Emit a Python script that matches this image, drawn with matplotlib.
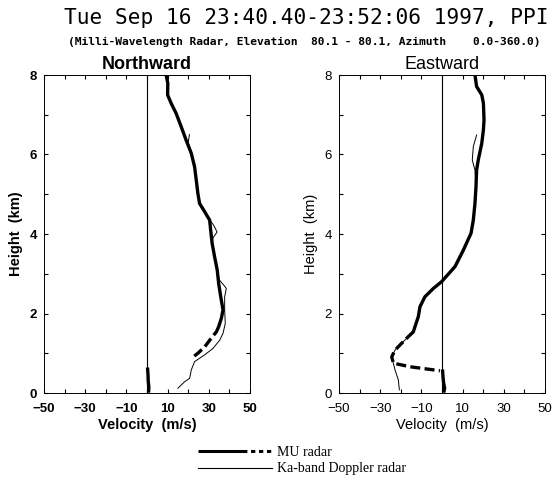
import numpy as np
import matplotlib.pyplot as plt
from matplotlib.lines import Line2D

# Northward profiles (velocity m/s, height km)
north_mu_h = [8.0, 7.79, 7.5, 7.29, 7.04, 6.7, 6.36, 6.03, 5.69, 5.36, 5.02, 4.77, 4.56,
              4.35, 4.1, 3.77, 3.43, 3.09, 2.75, 2.42, 2.09, 1.88, 1.67]
north_mu_v = [9.3, 10.1, 10.0, 11.7, 14.1, 16.6, 19.0, 21.5, 23.1, 23.9, 24.7, 25.5, 28.0,
              30.4, 30.9, 31.6, 32.8, 34.1, 34.8, 35.8, 36.9, 36.1, 34.8]
north_gap_h = [1.67, 1.54, 1.38, 1.16, 1.0, 0.87]
north_gap_v = [34.8, 33.7, 31.2, 28.0, 24.7, 21.5]
north_low_h = [0.6, 0.45, 0.3, 0.15, 0.05]
north_low_v = [0.3, 0.5, 0.6, 0.9, 0.8]
north_ka_h = [6.5, 6.3, 6.03, 5.69, 5.36, 5.02, 4.77, 4.56, 4.35, 4.2, 4.05, 3.9, 3.77, 3.43,
              3.09, 2.85, 2.7, 2.63, 2.42, 2.09, 1.75, 1.5, 1.33, 1.12, 0.96, 0.79, 0.58,
              0.37, 0.28, 0.12]
north_ka_v = [20.6, 20.0, 21.6, 23.2, 24.0, 24.8, 25.6, 28.2, 30.6, 32.6, 34.0, 32.0, 31.7,
              32.9, 34.2, 35.0, 37.5, 38.5, 37.7, 37.7, 38.0, 36.9, 35.3, 32.0, 28.0, 23.1,
              21.5, 20.7, 18.2, 15.0]

# Eastward profiles
east_mu_h = [8.0, 7.71, 7.5, 7.29, 6.87, 6.62, 6.28, 5.86, 5.61, 5.19, 4.77, 4.35, 4.02,
             3.6, 3.18, 2.8, 2.63, 2.42, 2.17, 1.92, 1.67, 1.54]
east_mu_v = [16.0, 16.8, 19.3, 20.1, 20.4, 20.1, 19.3, 17.6, 16.8, 16.5, 16.0, 15.2, 14.1,
             10.4, 6.3, -0.2, -4.2, -8.3, -10.7, -11.5, -13.1, -13.9]
east_gap_h = [1.54, 1.42, 1.25, 1.08, 0.91, 0.75, 0.66, 0.56]
east_gap_v = [-13.9, -16.3, -19.6, -22.8, -24.4, -23.6, -15.5, -1.0]
east_low_h = [0.55, 0.4, 0.25, 0.12, 0.05]
east_low_v = [0.3, 0.5, 0.8, 1.3, 1.0]
east_ka_h = [6.49, 6.2, 5.86, 5.61, 5.19, 4.77, 4.35, 4.02, 3.6, 3.18, 2.8, 2.63, 2.42, 2.17,
             1.92, 1.67, 1.54, 1.42, 1.25, 1.08, 0.91, 0.58, 0.33, 0.08]
east_ka_v = [16.8, 15.2, 14.7, 16.0, 16.5, 16.0, 15.2, 14.1, 10.9, 6.8, -0.2, -4.2, -8.3,
             -10.4, -11.3, -13.1, -13.9, -16.3, -19.6, -22.8, -24.4, -22.8, -21.2, -20.7]

x_major = [-50, -30, -10, 10, 30, 50]
x_minor = [-40, -20, 0, 20, 40]
y_major = [0, 2, 4, 6, 8]
y_minor = [1, 3, 5, 7]

plt.rcParams['font.family'] = ['Liberation Sans', 'DejaVu Sans']

fig = plt.figure(figsize=(5.56, 4.86), dpi=100)
ax1 = fig.add_axes([44/556, 93/486, 206/556, 318/486])
ax2 = fig.add_axes([339/556, 93/486, 206/556, 318/486])

THICK = 2.4
THIN = 0.7


def panel(ax, mu_h, mu_v, gap_h, gap_v, low_h, low_v, ka_h, ka_v, title, weight):
    ax.axvline(0, color='black', lw=0.8)
    ax.plot(ka_v, ka_h, color='black', lw=THIN)
    ax.plot(mu_v, mu_h, color='black', lw=THICK, solid_capstyle='round')
    ax.plot(gap_v, gap_h, color='black', lw=THICK, linestyle=(0, (3, 1.3)))
    ax.plot(low_v, low_h, color='black', lw=THICK)
    ax.set_xlim(-50, 50)
    ax.set_ylim(0, 8)
    ax.set_xticks(x_major)
    ax.set_xticks(x_minor, minor=True)
    ax.set_yticks(y_major)
    ax.set_yticks(y_minor, minor=True)
    ax.tick_params(which='both', direction='in', top=True, right=True, length=3,
                   width=0.8, labelsize=9.5)
    ax.tick_params(axis='x', pad=7)
    ax.tick_params(axis='y', pad=5)
    for lab in ax.get_xticklabels() + ax.get_yticklabels():
        lab.set_fontweight(weight)
    for sp in ax.spines.values():
        sp.set_linewidth(0.7)
    ax.set_title(title, fontsize=13, fontweight=weight, pad=4)
    ax.set_xlabel('Velocity  (m/s)', fontsize=10.5, fontweight=weight, labelpad=2)
    ax.set_ylabel('Height  (km)', fontsize=10.5, fontweight=weight, labelpad=5)


panel(ax1, north_mu_h, north_mu_v, north_gap_h, north_gap_v, north_low_h, north_low_v,
      north_ka_h, north_ka_v, 'Northward', 'bold')
panel(ax2, east_mu_h, east_mu_v, east_gap_h, east_gap_v, east_low_h, east_low_v,
      east_ka_h, east_ka_v, 'Eastward', 'normal')

fig.text(0.55, 1 - 18/486, 'Tue Sep 16 23:40.40-23:52:06 1997, PPI',
         family='DejaVu Sans Mono', fontsize=15.2, ha='center', va='center')
fig.text(0.547, 1 - 42/486,
         '(Milli-Wavelength Radar, Elevation  80.1 - 80.1, Azimuth    0.0-360.0)',
         family='DejaVu Sans Mono', fontweight='bold', fontsize=8.1,
         ha='center', va='center')

mu_handle = Line2D([], [], color='black', lw=2.2,
                   linestyle=(0, (16, 1.2, 1.4, 1.2, 1.4, 1.2, 1.4, 12)))
ka_handle = Line2D([], [], color='black', lw=0.8)
fig.legend([mu_handle, ka_handle], ['MU radar', 'Ka-band Doppler radar'],
           loc='upper left', bbox_to_anchor=(198/556, 1 - 446/486), frameon=False,
           borderpad=0, borderaxespad=0, handlelength=5.3, handletextpad=0.4,
           labelspacing=0.25, prop={'family': 'Liberation Serif', 'size': 10})

fig.savefig('out.png', dpi=100)
